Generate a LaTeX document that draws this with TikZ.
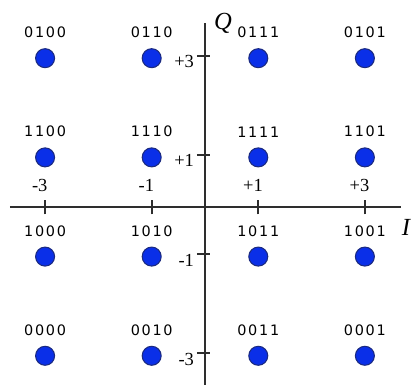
\documentclass[tikz,border=0pt]{standalone}
\usepackage{fontspec}
\setmainfont{Liberation Serif}
\newfontfamily\bitfont{DejaVu Sans}[LetterSpace=12]
\usetikzlibrary{positioning}

\definecolor{qamBlue}{HTML}{0A2FE8}
\definecolor{qamRim}{HTML}{1B2A80}
\definecolor{qamAxis}{HTML}{2E2E2E}

\begin{document}
\begin{tikzpicture}[x=1.066cm,y=0.992cm,
  symbol/.style={circle,fill=qamBlue,draw=qamRim,line width=0.6pt,minimum size=0.38cm,inner sep=0pt},
  bits/.style={inner sep=0pt,font=\bitfont\fontsize{8.2}{10}\selectfont,text=black},
  level/.style={inner sep=0pt,font=\fontsize{10.5}{12}\selectfont,text=black},
  axis/.style={draw=qamAxis,line width=1pt},
  axtick/.style={draw=qamAxis,line width=1pt}]
  \useasboundingbox (-3.846,-3.589) rectangle (3.884,4.173);

  % axes
  \coordinate (iWest) at (-3.66,0);
  \coordinate (iEast) at (3.68,0);
  \coordinate (qNorth) at (0,3.71);
  \coordinate (qSouth) at (0,-3.59);
  \draw[axis] (iWest) -- (iEast);
  \draw[axis,line width=1.4pt] (qSouth) -- (qNorth);
  \node[font=\itshape\fontsize{14}{16}\selectfont] (qName) at (0.34,3.7) {Q};
  \node[font=\itshape\fontsize{14}{16}\selectfont] (iName) at (3.77,-0.42) {I};

  % ticks and levels
  \foreach \v/\txt [count=\n] in {-3/-3,-1/-1,1/+1,3/+3}{
    \draw[axtick] (\v,-0.15) -- (\v,0.15);
    \draw[axtick] (-0.15,\v+0.05) -- (0.1,\v+0.05);
    \node[level] (iLevel\n) at (\v-0.1,0.44) {\txt};
    \node[level,anchor=east] (qLevel\n) at (-0.2,\v-0.07) {\txt};
  }

  % constellation points
  \foreach \i/\q/\code in {
    -3/3/0100, -1/3/0110, 1/3/0111, 3/3/0101,
    -3/1/1100, -1/1/1110, 1/1/1111, 3/1/1101,
    -3/-1/1000, -1/-1/1010, 1/-1/1011, 3/-1/1001,
    -3/-3/0000, -1/-3/0010, 1/-3/0011, 3/-3/0001
  }{
    \node[symbol] (s\code) at (\i,\q) {};
    \node[bits,above=0.2cm of s\code] (b\code) {\code};
  }
\end{tikzpicture}
\end{document}
